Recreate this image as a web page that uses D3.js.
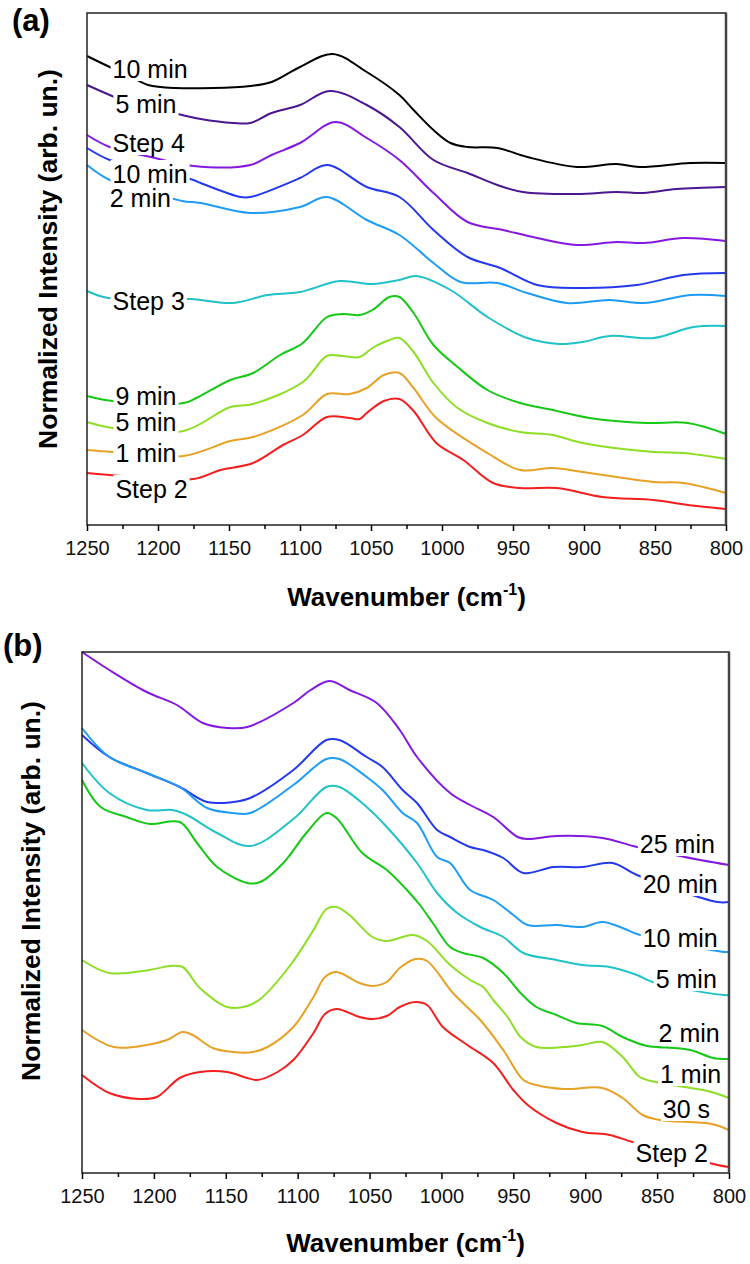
<!DOCTYPE html>
<html>
<head>
<meta charset="utf-8">
<script src="https://cdn.jsdelivr.net/npm/d3@7"></script>
<style>
  body { margin: 0; background: #fff; }
  text { font-family: Arial, "Liberation Sans", sans-serif; }
</style>
</head>
<body>
<script>
// ---- data: [wavenumber (cm-1), normalized intensity (arb. un.)] ----
// panel (a)
var aTen4 = [[1250,469],[1234,458],[1220,449],[1207,440],[1188,437],[1135,439],[1120,443],[1100,458],[1077,471],[1053,453],[1030,430],[1020,415],[1006,395],[994,382],[982,378],[961,377],[940,368],[905,358],[877,361],[861,358],[825,362],[800,362]];
var aFive4 = [[1250,440],[1234,430],[1220,422],[1183,410],[1170,406],[1147,402],[1135,402],[1120,412],[1100,420],[1079,434],[1053,420],[1030,398],[1006,365],[982,352],[959,339],[943,333],[905,331],[877,333],[858,332],[835,336],[800,338]];
var aStep4 = [[1250,390],[1234,378],[1205,368],[1175,359],[1135,360],[1120,370],[1100,382],[1075,403],[1053,387],[1030,365],[1006,332],[982,303],[957,295],[933,287],[905,280],[877,283],[858,282],[830,287],[800,284]];
var aTen3 = [[1250,377],[1234,365],[1205,355],[1175,345],[1170,342],[1142,328],[1135,328],[1100,347],[1081,360],[1053,338],[1030,328],[1006,295],[982,268],[959,257],[933,240],[903,237],[863,240],[830,250],[800,252]];
var aTwo3 = [[1250,360],[1234,345],[1205,333],[1183,324],[1170,322],[1135,312],[1100,318],[1081,328],[1053,305],[1030,290],[1006,262],[987,243],[961,242],[940,232],[912,222],[882,225],[858,222],[825,230],[800,229]];
var aStep3 = [[1250,234],[1235,227],[1177,226],[1147,222],[1123,230],[1100,233],[1072,244],[1049,241],[1030,245],[1018,249],[994,235],[968,208],[940,187],[917,181],[901,183],[882,189],[851,187],[823,198],[800,199]];
var aNine2 = [[1250,129],[1232,124],[1182,122],[1173,127],[1149,145],[1133,152],[1114,170],[1098,182],[1081,208],[1070,211],[1058,210],[1049,215],[1037,228],[1030,228],[1020,212],[1006,180],[989,158],[968,135],[945,122],[922,115],[896,107],[856,102],[827,102],[800,91]];
var aFive2 = [[1250,103],[1232,97],[1182,94],[1149,118],[1133,121],[1098,143],[1081,169],[1070,169],[1058,168],[1049,177],[1037,185],[1030,187],[1020,173],[1006,142],[989,117],[968,102],[945,93],[922,90],[901,82],[851,73],[830,72],[800,66]];
var aOne2 = [[1250,75],[1232,73],[1182,69],[1149,84],[1133,88],[1098,110],[1081,131],[1065,131],[1053,137],[1041,150],[1030,152],[1020,137],[1004,107],[968,72],[945,55],[922,57],[901,53],[851,43],[830,42],[800,32]];
var aStep2 = [[1250,52],[1225,49],[1175,46],[1156,55],[1133,62],[1112,80],[1098,90],[1081,108],[1065,107],[1058,106],[1053,112],[1041,124],[1030,126],[1020,114],[1004,82],[985,65],[964,42],[945,37],[919,37],[887,28],[851,25],[827,20],[800,16]];

// panel (b)
var b25 = [[1250,521],[1231,503],[1205,481],[1184,468],[1166,450],[1149,445],[1135,446],[1103,470],[1091,483],[1078,492],[1064,483],[1045,470],[1029,443],[1017,416],[994,380],[980,368],[964,356],[947,336],[940,334],[920,337],[888,335],[864,326],[820,313],[800,308]];
var b20 = [[1250,438],[1231,416],[1205,400],[1182,386],[1163,371],[1145,371],[1133,375],[1103,403],[1080,433],[1071,433],[1052,416],[1041,406],[1027,383],[1017,370],[1003,343],[994,336],[980,326],[971,323],[957,315],[943,300],[922,306],[902,306],[881,310],[864,298],[808,271],[800,271]];
var b10 = [[1250,445],[1231,416],[1205,400],[1182,386],[1163,365],[1145,360],[1133,360],[1103,388],[1080,414],[1071,414],[1052,396],[1041,383],[1027,360],[1017,350],[1003,316],[994,310],[980,283],[964,273],[950,258],[940,248],[920,248],[902,246],[888,251],[874,245],[864,239],[803,221],[800,221]];
var b5 = [[1250,410],[1231,380],[1205,363],[1187,363],[1177,358],[1156,340],[1133,327],[1103,354],[1080,386],[1071,386],[1052,366],[1038,346],[1017,310],[1003,280],[989,260],[973,246],[957,236],[943,220],[920,213],[902,208],[883,206],[864,198],[853,191],[804,178],[800,178]];
var b2 = [[1250,393],[1237,366],[1219,356],[1203,349],[1182,351],[1170,330],[1156,306],[1135,290],[1126,291],[1110,310],[1094,340],[1080,360],[1073,355],[1055,320],[1038,303],[1024,283],[1015,268],[1006,250],[994,226],[985,220],[971,215],[957,200],[945,180],[934,166],[920,158],[906,150],[888,147],[874,136],[857,127],[850,126],[827,123],[811,115],[800,114]];
var b1 = [[1250,213],[1231,200],[1203,203],[1189,207],[1180,206],[1168,185],[1149,166],[1135,167],[1126,174],[1105,208],[1089,243],[1080,264],[1073,266],[1064,258],[1048,236],[1038,232],[1020,238],[1010,232],[994,208],[980,193],[971,186],[964,173],[954,156],[945,136],[934,126],[915,126],[902,128],[888,131],[874,116],[862,96],[851,91],[815,82],[800,75]];
var b30s = [[1250,143],[1228,126],[1205,128],[1191,133],[1180,141],[1173,138],[1159,125],[1145,121],[1131,121],[1121,126],[1103,146],[1089,176],[1081,196],[1073,201],[1057,190],[1048,187],[1038,191],[1029,205],[1018,214],[1010,212],[992,180],[973,153],[957,123],[943,93],[934,88],[915,84],[888,85],[874,75],[860,58],[848,53],[812,49],[800,43]];
var bStep2 = [[1250,98],[1231,80],[1210,74],[1198,76],[1182,95],[1168,101],[1149,101],[1135,95],[1128,93],[1114,101],[1103,113],[1089,140],[1081,159],[1073,164],[1057,156],[1048,154],[1038,157],[1029,166],[1018,171],[1010,168],[999,146],[982,128],[964,110],[950,83],[940,68],[920,50],[902,41],[883,38],[867,31],[808,8],[800,6]];

var xTicks = [1250, 1200, 1150, 1100, 1050, 1000, 950, 900, 850, 800];
var xMinor = [1225, 1175, 1125, 1075, 1025, 975, 925, 875, 825];

var width = 750, height = 1264;
var svg = d3.select('body').append('svg')
  .attr('width', width)
  .attr('height', height);

var panels = [
  {
    tag: '(a)', tagX: 12, tagY: 31,
    left: 87, right: 726, top: 13, bottom: 525, yMax: 512,
    yTitleX: 57, yTitleY: 259, xTitleY: 606,
    series: [
      {data: aTen4,  color: '#000000', label: '10 min', lx: 1232, ly: 447},
      {data: aFive4, color: '#4b1690', label: '5 min',  lx: 1230, ly: 412},
      {data: aStep4, color: '#8418e0', label: 'Step 4', lx: 1232, ly: 373},
      {data: aTen3,  color: '#2438ee', label: '10 min', lx: 1232, ly: 342},
      {data: aTwo3,  color: '#1e9cf4', label: '2 min',  lx: 1234, ly: 318},
      {data: aStep3, color: '#20c2c8', label: 'Step 3', lx: 1232, ly: 215},
      {data: aNine2, color: '#16c816', label: '9 min',  lx: 1230, ly: 120},
      {data: aFive2, color: '#8ede26', label: '5 min',  lx: 1230, ly: 94},
      {data: aOne2,  color: '#e6a126', label: '1 min',  lx: 1230, ly: 63},
      {data: aStep2, color: '#f41e1e', label: 'Step 2', lx: 1230, ly: 27}
    ]
  },
  {
    tag: '(b)', tagX: 3, tagY: 656,
    left: 82, right: 729, top: 652, bottom: 1173, yMax: 521,
    yTitleX: 40, yTitleY: 891, xTitleY: 1252,
    series: [
      {data: b25,    color: '#8418e0', label: '25 min', lx: 862, ly: 320},
      {data: b20,    color: '#2438ee', label: '20 min', lx: 860, ly: 280},
      {data: b10,    color: '#1e9cf4', label: '10 min', lx: 860, ly: 226},
      {data: b5,     color: '#20c2c8', label: '5 min',  lx: 851, ly: 185},
      {data: b2,     color: '#16c816', label: '2 min',  lx: 849, ly: 131},
      {data: b1,     color: '#8ede26', label: '1 min',  lx: 848, ly: 90},
      {data: b30s,   color: '#e6a126', label: '30 s',   lx: 846, ly: 55},
      {data: bStep2, color: '#f41e1e', label: 'Step 2', lx: 865, ly: 11}
    ]
  }
];

function drawPanel(p) {
  var x = d3.scaleLinear().domain([1250, 800]).range([p.left, p.right]);
  var y = d3.scaleLinear().domain([0, p.yMax]).range([p.bottom, p.top]);
  var g = svg.append('g');

  var line = d3.line()
    .x(function (d) { return x(d[0]); })
    .y(function (d) { return y(d[1]); })
    .curve(d3.curveCatmullRom.alpha(0.5));

  g.selectAll('.spec')
    .data(p.series)
    .enter()
    .append('path')
    .attr('class', 'spec')
    .attr('d', function (d) { return line(d.data); })
    .attr('fill', 'none')
    .attr('stroke', function (d) { return d.color; })
    .attr('stroke-width', 2)
    .attr('stroke-linejoin', 'round');

  // curve labels, with a white box that cuts the lines behind them
  var fs = 25;
  var labs = g.selectAll('.lab')
    .data(p.series)
    .enter()
    .append('g')
    .attr('class', 'lab');
  labs.append('text')
    .attr('x', function (d) { return x(d.lx); })
    .attr('y', function (d) { return y(d.ly); })
    .attr('font-size', fs)
    .attr('fill', '#000')
    .text(function (d) { return d.label; });
  labs.each(function () {
    var t = d3.select(this).select('text');
    var bb = t.node().getBBox();
    var base = +t.attr('y');
    d3.select(this).insert('rect', 'text')
      .attr('x', bb.x - 2)
      .attr('y', base - fs * 0.72 - 5)
      .attr('width', bb.width + 4)
      .attr('height', fs * 0.72 + 8)
      .attr('fill', '#fff');
  });

  // frame
  g.append('rect')
    .attr('x', p.left)
    .attr('y', p.top)
    .attr('width', p.right - p.left)
    .attr('height', p.bottom - p.top)
    .attr('fill', 'none')
    .attr('stroke', '#222')
    .attr('stroke-width', 1.5);
  g.append('line')
    .attr('x1', p.right).attr('x2', p.right)
    .attr('y1', p.top).attr('y2', p.bottom)
    .attr('stroke', '#444')
    .attr('stroke-width', 2.5);

  // x axis
  var ax = g.append('g')
    .attr('transform', 'translate(0,' + p.bottom + ')')
    .call(d3.axisBottom(x).tickValues(xTicks).tickSize(6).tickSizeOuter(0).tickFormat(d3.format('d')));
  ax.select('.domain').remove();
  ax.selectAll('line').attr('stroke', '#000').attr('stroke-width', 1.5);
  ax.selectAll('text')
    .attr('font-size', 20)
    .attr('fill', '#111')
    .attr('dy', '1.05em');

  g.append('g')
    .attr('transform', 'translate(0,' + p.bottom + ')')
    .call(d3.axisBottom(x).tickValues(xMinor).tickSize(4).tickFormat(''))
    .call(function (s) {
      s.select('.domain').remove();
      s.selectAll('line').attr('stroke', '#000').attr('stroke-width', 1.5);
    });

  // titles
  var xt = g.append('text')
    .attr('x', (p.left + p.right) / 2)
    .attr('y', p.xTitleY)
    .attr('text-anchor', 'middle')
    .attr('font-size', 26)
    .attr('font-weight', 'bold');
  xt.append('tspan').text('Wavenumber (cm');
  xt.append('tspan').attr('font-size', 16).attr('dy', -11).text('-1');
  xt.append('tspan').attr('dy', 11).text(')');

  g.append('text')
    .attr('transform', 'translate(' + p.yTitleX + ',' + p.yTitleY + ') rotate(-90)')
    .attr('text-anchor', 'middle')
    .attr('font-size', 26.5)
    .attr('font-weight', 'bold')
    .text('Normalized Intensity (arb. un.)');

  g.append('text')
    .attr('x', p.tagX)
    .attr('y', p.tagY)
    .attr('font-size', 31)
    .attr('font-weight', 'bold')
    .text(p.tag);
}

panels.forEach(drawPanel);
</script>
</body>
</html>
